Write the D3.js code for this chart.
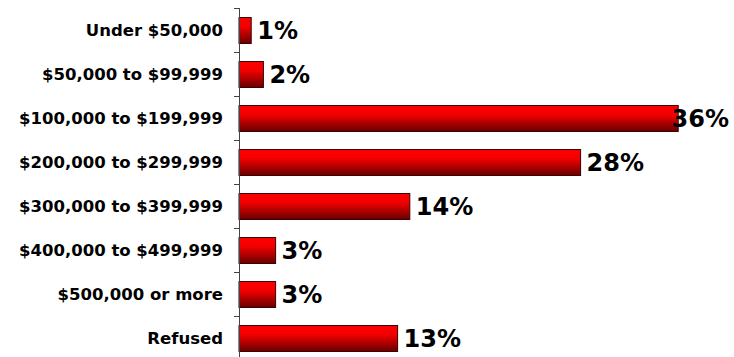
<!DOCTYPE html>
<html><head><meta charset="utf-8">
<script src="https://cdn.jsdelivr.net/npm/d3@7"></script>
<style>html,body{margin:0;padding:0;background:#fff;}svg{display:block;}</style>
</head><body>
<svg id="c" width="734" height="357"></svg>
<script>
const categories = ["Under $50,000","$50,000 to $99,999","$100,000 to $199,999","$200,000 to $299,999","$300,000 to $399,999","$400,000 to $499,999","$500,000 or more","Refused"];
const values = [1,2,36,28,14,3,3,13];
const valueLabels = ["1%","2%","36%","28%","14%","3%","3%","13%"];

const W = 734, H = 357;
const svg = d3.select("#c");
const x = d3.scaleLinear().domain([0, 40]).range([239, 239 + 40 * 12.2]);
const y = d3.scaleBand().domain(categories).range([8, 360]).paddingInner(0.41).paddingOuter(0.205);

const defs = svg.append("defs");
const g = defs.append("linearGradient").attr("id","bg").attr("x1",0).attr("y1",0).attr("x2",0).attr("y2",1);
g.append("stop").attr("offset","0").attr("stop-color","#ff0000");
g.append("stop").attr("offset","0.35").attr("stop-color","#f20000");
g.append("stop").attr("offset","1").attr("stop-color","#680000");

svg.selectAll("rect.bar").data(values).join("rect").attr("class","bar")
  .attr("x", x(0)).attr("y", (d,i) => y(categories[i]) + 0.5)
  .attr("width", d => x(d) - x(0)).attr("height", y.bandwidth())
  .attr("fill","url(#bg)").attr("stroke","#3a0000").attr("stroke-width",1);

// axis
const axisG = svg.append("g");
axisG.append("line").attr("x1", x(0)+0.5).attr("x2", x(0)+0.5).attr("y1", 8).attr("y2", H)
  .attr("stroke","#444").attr("stroke-width",1);
const bounds = categories.map(c => y(c) - y.step()*y.paddingInner()/2);
axisG.selectAll("line.tick").data(bounds).join("line").attr("class","tick")
  .attr("x1", x(0)-5).attr("x2", x(0)+0.5).attr("y1", d => Math.round(d)+0.5).attr("y2", d => Math.round(d)+0.5)
  .attr("stroke","#444").attr("stroke-width",1);

svg.selectAll("text.cat").data(categories).join("text").attr("class","cat")
  .attr("x", 223).attr("y", d => y(d) + y.bandwidth()/2 + 0.5)
  .attr("text-anchor","end").attr("dominant-baseline","central")
  .attr("font-family","'DejaVu Sans', Verdana, sans-serif").attr("font-weight","bold")
  .attr("font-size", 16.5).attr("fill","#000").text(d => d);

const vl = svg.selectAll("text.val").data(values).join("text").attr("class","val")
  .attr("y", (d,i) => y(categories[i]) + y.bandwidth()/2 + 1)
  .attr("dominant-baseline","central")
  .attr("font-family","'DejaVu Sans', Verdana, sans-serif").attr("font-weight","bold")
  .attr("font-size", 24).attr("fill","#000").text((d,i) => valueLabels[i]);
vl.each(function(d){
  const w = this.getComputedTextLength();
  d3.select(this).attr("x", Math.min(x(d) + 6, W - 5 - w));
});
</script>
</body></html>
